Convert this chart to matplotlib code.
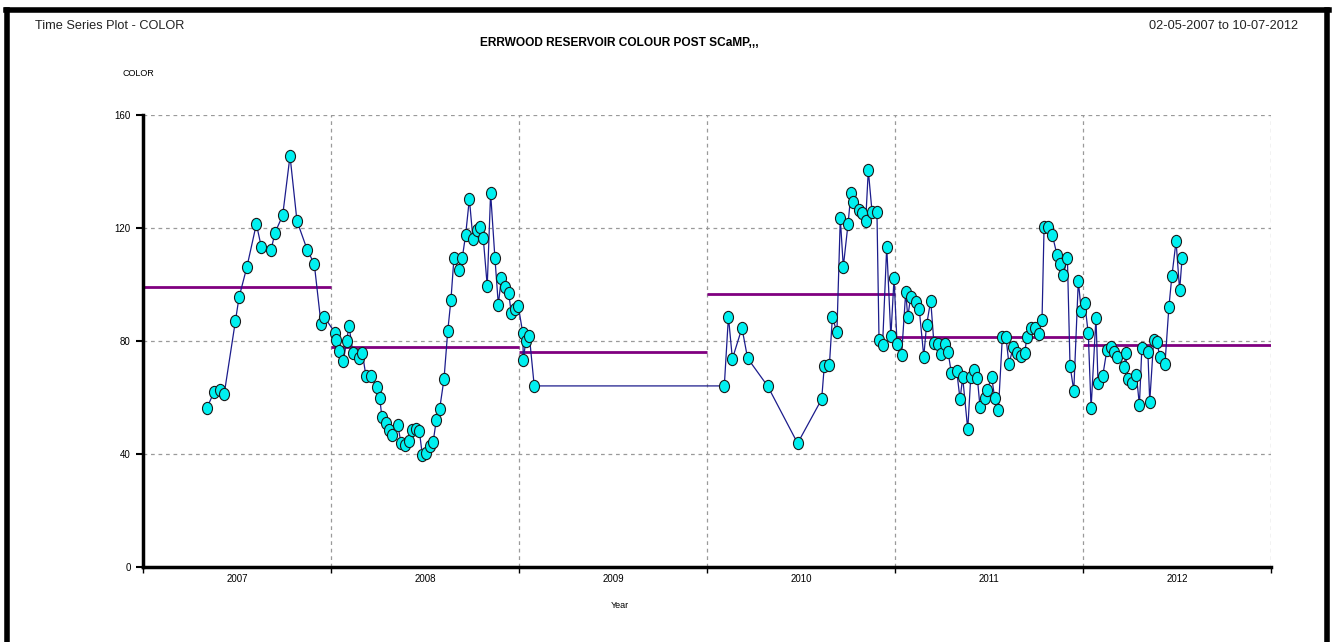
import numpy as np
import matplotlib.pyplot as plt
from matplotlib.path import Path
from matplotlib.transforms import Affine2D
from matplotlib.lines import Line2D

plt.rcParams['font.family'] = ['Liberation Sans', 'DejaVu Sans']

# Data: sample date (decimal year) and colour value
years = [
    2007.339, 2007.379, 2007.410, 2007.432, 2007.491, 2007.511, 2007.553, 2007.603,
    2007.629, 2007.681, 2007.702, 2007.743, 2007.782, 2007.819, 2007.874, 2007.911,
    2007.947, 2007.964, 2008.023, 2008.025, 2008.043, 2008.066, 2008.083, 2008.096,
    2008.117, 2008.148, 2008.167, 2008.186, 2008.212, 2008.243, 2008.259, 2008.271,
    2008.291, 2008.310, 2008.326, 2008.355, 2008.372, 2008.392, 2008.415, 2008.432,
    2008.454, 2008.470, 2008.486, 2008.504, 2008.525, 2008.543, 2008.560, 2008.578,
    2008.601, 2008.621, 2008.638, 2008.654, 2008.679, 2008.698, 2008.716, 2008.736,
    2008.755, 2008.775, 2008.793, 2008.810, 2008.831, 2008.849, 2008.872, 2008.890,
    2008.906, 2008.926, 2008.945, 2008.959, 2008.979, 2008.996, 2009.020, 2009.023,
    2009.036, 2009.055, 2009.081,
    2010.092, 2010.114, 2010.135, 2010.186, 2010.216, 2010.323, 2010.482, 2010.610,
    2010.624, 2010.651, 2010.667, 2010.691, 2010.709, 2010.725, 2010.750, 2010.766,
    2010.778, 2010.809, 2010.824, 2010.844, 2010.858, 2010.878, 2010.904, 2010.915,
    2010.934, 2010.956, 2010.978, 2010.995, 2011.011, 2011.035, 2011.057, 2011.068,
    2011.083, 2011.110, 2011.129, 2011.153, 2011.168, 2011.190, 2011.207, 2011.227,
    2011.243, 2011.268, 2011.282, 2011.300, 2011.328, 2011.346, 2011.360, 2011.387,
    2011.403, 2011.422, 2011.438, 2011.452, 2011.477, 2011.491, 2011.514, 2011.530,
    2011.550, 2011.571, 2011.590, 2011.606, 2011.629, 2011.647, 2011.668, 2011.690,
    2011.702, 2011.722, 2011.746, 2011.766, 2011.782, 2011.793, 2011.816, 2011.837,
    2011.862, 2011.878, 2011.895, 2011.917, 2011.931, 2011.951, 2011.975, 2011.991,
    2012.009, 2012.028, 2012.043, 2012.069, 2012.080, 2012.105, 2012.127, 2012.147,
    2012.165, 2012.183, 2012.220, 2012.227, 2012.238, 2012.259, 2012.284, 2012.300,
    2012.313, 2012.345, 2012.355, 2012.376, 2012.392, 2012.410, 2012.436, 2012.457,
    2012.473, 2012.495, 2012.514, 2012.527,
]
colour = [
    56.2, 62.1, 62.7, 61.3, 87.0, 95.5, 106.3, 121.4,
    113.4, 112.2, 118.3, 124.5, 145.5, 122.5, 112.2, 107.3,
    86.0, 88.6, 82.7, 80.4, 76.6, 72.9, 80.1, 85.3,
    75.6, 74.1, 75.7, 67.5, 67.6, 63.6, 59.8, 53.0,
    50.9, 48.5, 46.7, 50.3, 44.0, 43.1, 44.7, 48.5,
    48.7, 48.1, 39.5, 40.2, 42.9, 44.1, 52.0, 56.0,
    66.5, 83.5, 94.6, 109.4, 105.2, 109.3, 117.5, 130.3,
    116.2, 119.3, 120.2, 116.3, 99.5, 132.4, 109.3, 92.9,
    102.2, 99.0, 97.1, 89.8, 91.3, 92.4, 82.9, 73.3,
    80.0, 81.8, 64.1,
    64.1, 88.6, 73.7, 84.6, 73.9, 64.0, 43.8, 59.4,
    71.3, 71.5, 88.4, 83.1, 123.4, 106.3, 121.3, 132.5,
    129.3, 126.4, 125.2, 122.5, 140.4, 125.6, 125.6, 80.4,
    78.7, 113.4, 81.6, 102.3, 78.8, 75.0, 97.3, 88.5,
    95.5, 93.7, 91.2, 74.5, 85.7, 94.3, 79.2, 78.9,
    75.4, 78.9, 76.2, 68.6, 69.5, 59.4, 67.1, 48.7,
    67.4, 69.7, 67.0, 56.7, 59.9, 62.6, 67.4, 59.9,
    55.6, 81.5, 81.5, 71.9, 77.8, 75.9, 74.8, 75.9,
    81.5, 84.5, 84.5, 82.5, 87.4, 120.5, 120.5, 117.5,
    110.4, 107.3, 103.4, 109.3, 71.3, 62.4, 101.2, 90.6,
    93.6, 82.7, 56.2, 88.3, 65.0, 67.7, 76.8, 77.8,
    76.2, 74.2, 70.9, 75.9, 66.5, 65.0, 68.0, 57.3,
    77.4, 76.2, 58.5, 80.4, 79.8, 74.2, 71.9, 92.1,
    103.1, 115.3, 97.9, 109.3,
]

# Annual mean lines
mean_years = [2007, 2008, 2009, 2010, 2011, 2012]
mean_vals = [99.2, 78.0, 76.2, 96.5, 81.5, 78.7]

year_labels = ['2007', '2008', '2009', '2010', '2011', '2012']

fig = plt.figure(figsize=(13.33, 6.42), dpi=100)
ax = fig.add_axes([143 / 1333, 1 - 567 / 642, (1271 - 143) / 1333, (567 - 115) / 642])

# slightly tall ellipse marker
ell = Path.unit_circle().transformed(Affine2D().scale(0.82, 1.0))

ax.hlines(mean_vals, mean_years, [y + 1 for y in mean_years], colors='#800080', lw=2, zorder=2)
ax.plot(years, colour, color='#1c1c8c', lw=0.9, marker=ell, markersize=8.8,
        markerfacecolor='#00f0f0', markeredgecolor='#1a1a1a', markeredgewidth=0.8, zorder=3)

ax.set_xlim(2007, 2013)
ax.set_ylim(0, 160)
ax.set_yticks([0, 40, 80, 120, 160])
ax.set_yticklabels(['0', '40', '80', '120', '160'], fontsize=7)
ax.set_xticks(range(2007, 2014))
ax.set_xticklabels([])
ax.set_xticks([y + 0.5 for y in mean_years], minor=True)
ax.set_xticklabels(year_labels, minor=True, fontsize=7)
ax.tick_params(axis='x', which='minor', length=0, pad=5)
ax.tick_params(axis='x', which='major', length=4, width=1, direction='out')
ax.tick_params(axis='y', length=5, width=1.5, direction='out', pad=4)

ax.grid(True, which='major', color='#9a9a9a', linestyle=(0, (3, 3)), lw=0.9)
for s in ['top', 'right']:
    ax.spines[s].set_visible(False)
ax.spines['left'].set_linewidth(2.5)
ax.spines['bottom'].set_linewidth(2.5)

fig.text(138 / 1333, 1 - 74 / 642, 'COLOR', fontsize=6.5, ha='center', va='center')
fig.text(620 / 1333, 1 - 605 / 642, 'Year', fontsize=6.5, ha='center', va='center')
fig.text(619 / 1333, 1 - 43 / 642, 'ERRWOOD RESERVOIR COLOUR POST SCaMP,,,', fontsize=8.6,
         fontweight='bold', ha='center', va='center')
fig.text(35 / 1333, 1 - 26 / 642, 'Time Series Plot - COLOR', fontsize=9.2, ha='left', va='center',
         color='#222222')
fig.text(1298 / 1333, 1 - 26 / 642, '02-05-2007 to 10-07-2012', fontsize=9.2, ha='right', va='center',
         color='#222222')

# black frame (open at the bottom)
W, H = 1333, 642
fig.add_artist(Line2D([7.5 / W, 7.5 / W], [0, 1 - 9.5 / H], color='black', lw=4, transform=fig.transFigure))
fig.add_artist(Line2D([1327 / W, 1327 / W], [0, 1 - 9.5 / H], color='black', lw=4, transform=fig.transFigure))
fig.add_artist(Line2D([5.5 / W, 1329 / W], [1 - 9.5 / H, 1 - 9.5 / H], color='black', lw=4,
                      transform=fig.transFigure))

fig.savefig('out.png', dpi=100)
